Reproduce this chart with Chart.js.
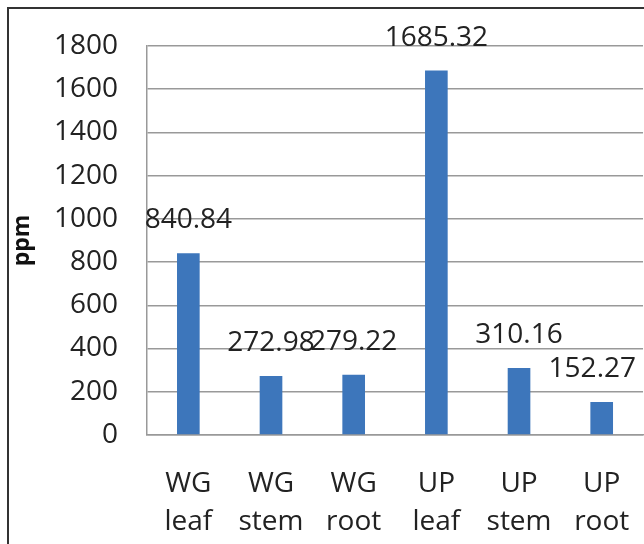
<!DOCTYPE html>
<html>
<head>
<meta charset="utf-8">
<script src="https://cdn.jsdelivr.net/npm/chart.js@4"></script>
<style>
  html, body { margin: 0; padding: 0; background: #fff; overflow: hidden; }
  #wrap { position: absolute; left: 0; top: 0; width: 660px; height: 570px; }
  #frame {
    position: absolute; left: 7px; top: 7px; width: 700px; height: 600px;
    border-left: 2px solid #333; border-top: 2px solid #333; pointer-events: none;
  }
</style>
</head>
<body>
<div id="wrap"><canvas id="chart" width="660" height="570"></canvas></div>
<div id="frame"></div>
<script>
// data
const categories = [["WG", "leaf"], ["WG", "stem"], ["WG", "root"], ["UP", "leaf"], ["UP", "stem"], ["UP", "root"]];
const ppmValues = [840.84, 272.98, 279.22, 1685.32, 310.16, 152.27];
const yTicks = [0, 200, 400, 600, 800, 1000, 1200, 1400, 1600, 1800];

const fontFamily = "'Open Sans', 'Liberation Sans', sans-serif";

// value labels above the bars
const valueLabels = {
  id: "valueLabels",
  afterDatasetsDraw(chart) {
    const ctx = chart.ctx;
    const meta = chart.getDatasetMeta(0);
    ctx.save();
    ctx.font = "28px " + fontFamily;
    ctx.fillStyle = "#222";
    ctx.textAlign = "center";
    ctx.textBaseline = "middle";
    meta.data.forEach((bar, i) => {
      const text = ppmValues[i].toFixed(2);
      const w = ctx.measureText(text).width;
      let x = bar.x;
      // keep the label inside the visible page
      if (x + w / 2 > 636) x = 636 - w / 2;
      ctx.fillText(text, x, bar.y - 33);
    });
    ctx.restore();
  },
};

new Chart(document.getElementById("chart"), {
  type: "bar",
  data: {
    labels: categories,
    datasets: [
      {
        data: ppmValues,
        backgroundColor: "#3d76bb",
        borderWidth: 0,
        categoryPercentage: 1,
        barPercentage: 0.274,
      },
    ],
  },
  options: {
    responsive: false,
    animation: false,
    layout: { padding: { top: 43, right: 9, bottom: 0, left: 0 } },
    plugins: { legend: { display: false }, tooltip: { enabled: false } },
    scales: {
      x: {
        grid: { display: false, drawTicks: false },
        border: { display: true, color: "#999", width: 1.5 },
        ticks: {
          color: "#222",
          font: { family: fontFamily, size: 28, lineHeight: 1.36 },
          padding: 30,
          maxRotation: 0,
          autoSkip: false,
        },
        afterFit(scale) { scale.height = 135; },
      },
      y: {
        min: 0,
        max: 1800,
        afterBuildTicks(scale) { scale.ticks = yTicks.map((v) => ({ value: v })); },
        grid: { color: "#999", lineWidth: 1.5, drawTicks: false },
        border: { display: true, color: "#999", width: 1.5 },
        ticks: {
          color: "#222",
          font: { family: fontFamily, size: 28 },
          padding: 29,
          callback: (v) => String(v),
        },
        title: {
          display: true,
          text: "ppm",
          color: "#111",
          font: { family: fontFamily, size: 23, weight: "bold" },
          padding: { top: 9, bottom: 0 },
        },
        afterFit(scale) { scale.width = 147; },
      },
    },
  },
  plugins: [valueLabels],
});
</script>
</body>
</html>
